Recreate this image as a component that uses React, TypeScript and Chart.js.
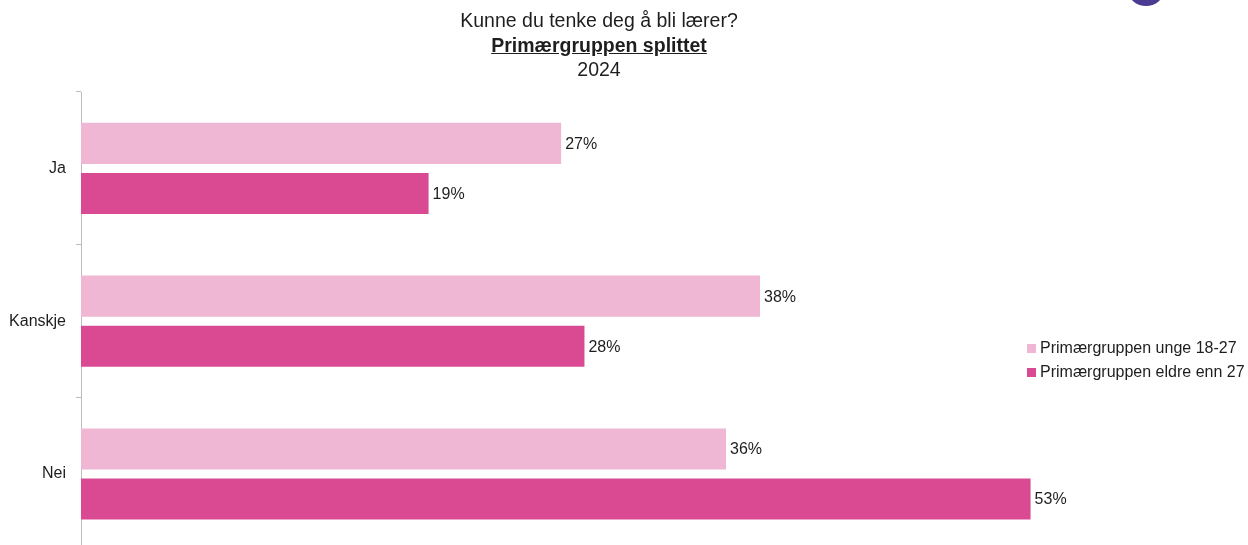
import React, { useEffect, useRef } from "react";
import { Chart, registerables } from "chart.js";

Chart.register(...registerables);

const categories = ["Ja", "Kanskje", "Nei"];
const seriesNames = ["Primærgruppen unge 18-27", "Primærgruppen eldre enn 27"];
const youngValues = [26.8, 37.9, 36.0];
const olderValues = [19.4, 28.1, 53.0];
const seriesColors = ["#F0B7D5", "#D94A93"];
const titleLines = ["Kunne du tenke deg å bli lærer?", "Primærgruppen splittet", "2024"];

const FONT = "'Liberation Sans', Arial, Helvetica, sans-serif";

const CANVAS_H = 570;

const valueLabelPlugin = {
  id: "valueLabels",
  afterDatasetsDraw(chart: any) {
    const ctx = chart.ctx;
    ctx.save();
    ctx.font = `16px ${FONT}`;
    ctx.fillStyle = "#1e1e1e";
    ctx.textAlign = "left";
    ctx.textBaseline = "middle";
    chart.data.datasets.forEach((ds: any, i: number) => {
      const meta = chart.getDatasetMeta(i);
      meta.data.forEach((el: any, j: number) => {
        const v = ds.data[j];
        ctx.fillText(`${Math.round(v)}%`, el.x + 4, el.y + 1);
      });
    });
    ctx.restore();
  },
};

export default function App() {
  const canvasRef = useRef<HTMLCanvasElement | null>(null);

  useEffect(() => {
    document.body.style.overflow = "hidden";
    const canvas = canvasRef.current;
    if (!canvas) return;
    const chart = new Chart(canvas, {
      type: "bar",
      data: {
        labels: categories,
        datasets: [
          {
            label: seriesNames[0],
            data: youngValues,
            backgroundColor: seriesColors[0],
            categoryPercentage: 0.656,
            barPercentage: 0.82,
          },
          {
            label: seriesNames[1],
            data: olderValues,
            backgroundColor: seriesColors[1],
            categoryPercentage: 0.656,
            barPercentage: 0.82,
          },
        ],
      },
      options: {
        indexAxis: "y",
        animation: false,
        responsive: false,
        maintainAspectRatio: false,
        layout: { padding: { top: 92, bottom: 0, left: 0, right: 92 } },
        plugins: {
          legend: { display: false },
          title: { display: false },
          tooltip: { enabled: false },
        },
        scales: {
          x: {
            display: false,
            min: 0,
            max: 60,
          },
          y: {
            afterFit: (s: any) => {
              s.width = 81;
            },
            grid: {
              offset: true,
              drawOnChartArea: false,
              drawTicks: true,
              tickLength: 5,
              color: "#BDBDBD",
            },
            border: { display: true, color: "#BDBDBD", width: 1 },
            ticks: {
              padding: 10,
              color: "#1e1e1e",
              font: { family: FONT, size: 16 },
            },
          },
        },
      } as any,
      plugins: [valueLabelPlugin],
    });
    return () => chart.destroy();
  }, []);

  return (
    <div style={{ position: "fixed", left: 0, top: 0, width: 1248, height: CANVAS_H, background: "#fff", fontFamily: FONT, color: "#1e1e1e" }}>
      <canvas ref={canvasRef} width={1248} height={CANVAS_H} style={{ position: "absolute", left: 0, top: 0, width: 1248, height: CANVAS_H }} />
      <div
        style={{
          position: "absolute",
          left: 1129,
          top: -22,
          width: 34,
          height: 28,
          borderRadius: "50%",
          background: "#4B3C92",
        }}
      />
      <div
        style={{
          position: "absolute",
          left: 399,
          top: 8,
          width: 400,
          textAlign: "center",
          fontSize: 19.5,
          lineHeight: "24.5px",
        }}
      >
        <div>{titleLines[0]}</div>
        <div style={{ fontWeight: "bold", textDecoration: "underline" }}>{titleLines[1]}</div>
        <div>{titleLines[2]}</div>
      </div>
      <div style={{ position: "absolute", left: 1027, top: 336, fontSize: 16, lineHeight: "24px" }}>
        {seriesNames.map((n, i) => (
          <div key={n} style={{ display: "flex", alignItems: "center", whiteSpace: "nowrap" }}>
            <span style={{ display: "inline-block", width: 9, height: 9, background: seriesColors[i], marginRight: 4 }} />
            <span>{n}</span>
          </div>
        ))}
      </div>
    </div>
  );
}
